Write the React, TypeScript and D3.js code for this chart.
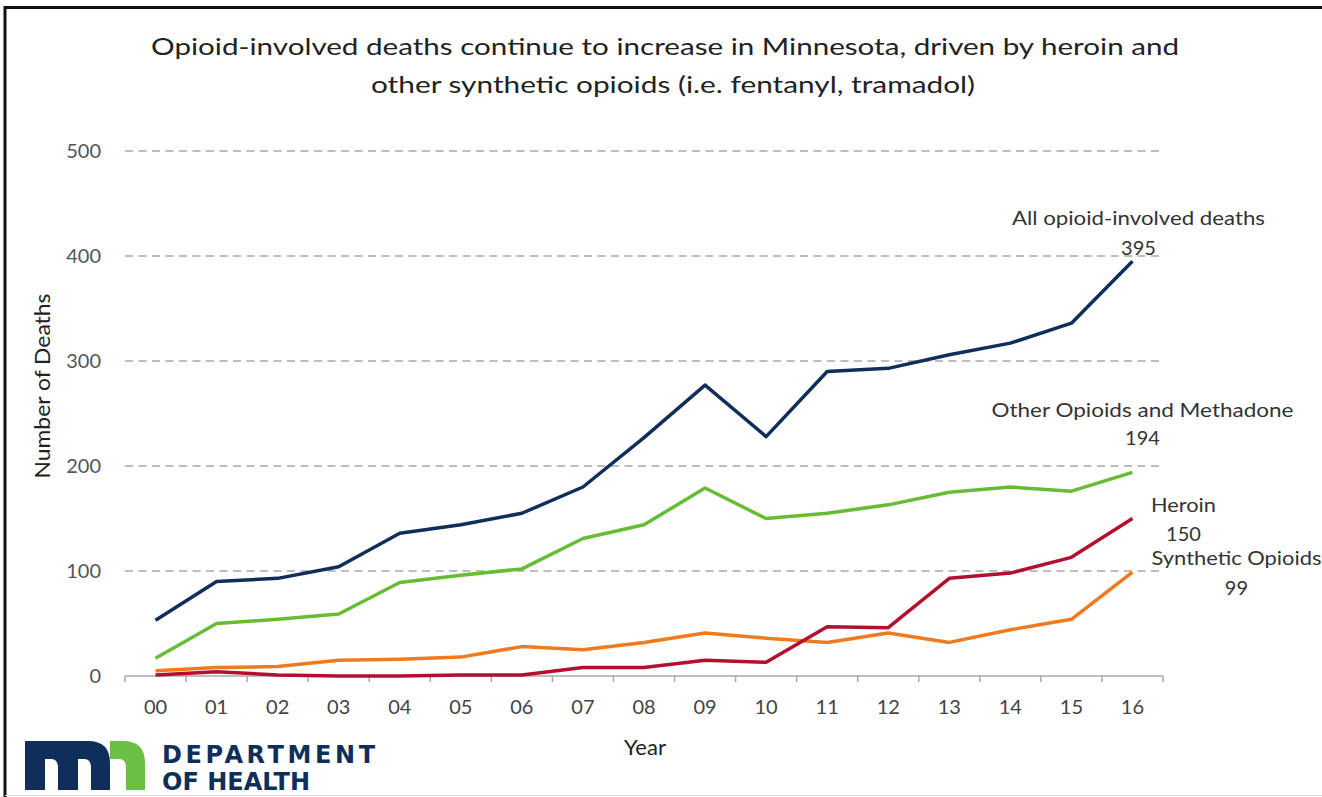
import * as d3 from 'd3';

const years = ['00', '01', '02', '03', '04', '05', '06', '07', '08', '09', '10', '11', '12', '13', '14', '15', '16'];

const allOpioids = [53, 90, 93, 104, 136, 144, 155, 180, 227, 277, 228, 290, 293, 306, 317, 336, 395];
const otherOpioids = [17, 50, 54, 59, 89, 96, 102, 131, 144, 179, 150, 155, 163, 175, 180, 176, 194];
const heroin = [1, 4, 1, 0, 0, 1, 1, 8, 8, 15, 13, 47, 46, 93, 98, 113, 150];
const synthetic = [5, 8, 9, 15, 16, 18, 28, 25, 32, 41, 36, 32, 41, 32, 44, 54, 99];

const yTicks = [0, 100, 200, 300, 400, 500];

const series = [
  { name: 'Synthetic Opioids', values: synthetic, color: '#f07a1f' },
  { name: 'Heroin', values: heroin, color: '#b3102f' },
  { name: 'Other Opioids and Methadone', values: otherOpioids, color: '#66bd35' },
  { name: 'All opioid-involved deaths', values: allOpioids, color: '#0f2f5a' },
];

// end-of-line annotations (offsets from last point)
const endLabels = [
  { name: 'All opioid-involved deaths', value: 395, dx: 6, nameY: 225, valY: 255, len: 253 },
  { name: 'Other Opioids and Methadone', value: 194, dx: 10, nameY: 417, valY: 445, len: 302 },
  { name: 'Heroin', value: 150, dx: 51, nameY: 512, valY: 541, len: 65 },
  { name: 'Synthetic Opioids', value: 99, dx: 104, nameY: 565, valY: 595, len: 170 },
];

const FONT = "Lato, 'Open Sans', sans-serif";

export default function App() {
  const W = 1322;
  const H = 797;
  const left = 125;
  const right = 1163;

  const x = d3.scaleBand<string>().domain(years).range([left, right]).padding(0);
  const y = d3.scaleLinear().domain([0, 500]).range([676, 151]);
  const xc = (d: string) => (x(d) as number) + x.bandwidth() / 2;

  const line = d3
    .line<number>()
    .x((_, i) => xc(years[i]))
    .y((d) => y(d));

  const boundaries = years.map((d) => x(d) as number).concat([right]);
  const lastX = xc(years[years.length - 1]);

  return (
    <div style={{ position: 'absolute', left: 0, top: 0 }}>
      <svg width={W} height={H} style={{ display: 'block', background: '#fff' }}>
        {/* frame */}
        <line x1={4} x2={W} y1={7.5} y2={7.5} stroke="#111" strokeWidth={3} />
        <line x1={5} x2={5} y1={6} y2={H} stroke="#111" strokeWidth={3} />
        <line x1={5} x2={W} y1={795.5} y2={795.5} stroke="#ddd" strokeWidth={1} />

        {/* title */}
        <text x={665} y={55} textAnchor="middle" fontFamily={FONT} fontSize={24} fill="#222"
          textLength={1028} lengthAdjust="spacingAndGlyphs">
          Opioid-involved deaths continue to increase in Minnesota, driven by heroin and
        </text>
        <text x={673} y={93} textAnchor="middle" fontFamily={FONT} fontSize={24} fill="#222"
          textLength={604} lengthAdjust="spacingAndGlyphs">
          other synthetic opioids (i.e. fentanyl, tramadol)
        </text>

        {/* gridlines */}
        {yTicks.filter((t) => t > 0).map((t) => (
          <line key={t} x1={left} x2={right} y1={y(t)} y2={y(t)} stroke="#bdbdbd"
            strokeWidth={2} strokeDasharray="8,5.5" />
        ))}

        {/* y tick labels */}
        {yTicks.map((t) => (
          <text key={t} x={101} y={y(t)} dy="0.35em" textAnchor="end" fontFamily={FONT}
            fontSize={20} fill="#555">
            {t}
          </text>
        ))}

        {/* x axis */}
        <line x1={left} x2={right} y1={y(0)} y2={y(0)} stroke="#a8a8a8" strokeWidth={1.5} />
        {boundaries.map((b, i) => (
          <line key={i} x1={b} x2={b} y1={y(0)} y2={y(0) + 6} stroke="#a8a8a8" strokeWidth={1.5} />
        ))}
        {years.map((d) => (
          <text key={d} x={xc(d)} y={714} textAnchor="middle" fontFamily={FONT} fontSize={20} fill="#444">
            {d}
          </text>
        ))}

        {/* axis titles */}
        <text x={645} y={755} textAnchor="middle" fontFamily={FONT} fontSize={22} fill="#222">Year</text>
        <text transform="translate(50,386) rotate(-90)" textAnchor="middle" fontFamily={FONT}
          fontSize={22} fill="#222" textLength={185} lengthAdjust="spacingAndGlyphs">
          Number of Deaths
        </text>

        {/* series */}
        {series.map((s) => (
          <path key={s.name} d={line(s.values) || ''} fill="none" stroke={s.color}
            strokeWidth={3.5} strokeLinejoin="round" />
        ))}

        {/* end labels */}
        {endLabels.map((l) => (
          <g key={l.name} fontFamily={FONT} fontSize={20} fill="#333" textAnchor="middle">
            <text x={lastX + l.dx} y={l.nameY} textLength={l.len} lengthAdjust="spacingAndGlyphs">{l.name}</text>
            <text x={lastX + l.dx} y={l.valY}>{l.value}</text>
          </g>
        ))}

        {/* logo */}
        <path d="M25,790 L25,741 L88,741 Q110,741 110,763 L110,790 L91,790 L91,768 Q91,759 84,759 L78,759 L78,790 L58,790 L58,768 Q58,759 51,759 L45,759 L45,790 Z"
          fill="#0f2f5a" />
        <path d="M110,741 L123,741 Q145,741 145,763 L145,790 L126,790 L126,768 Q126,759 119,759 L110,759 Z"
          fill="#6abf45" />
        <text x={162} y={763} fontFamily="'DejaVu Sans', sans-serif" fontWeight="bold" fontSize={24}
          fill="#0f2f5a" textLength={213} lengthAdjust="spacing">
          DEPARTMENT
        </text>
        <text x={162} y={790} fontFamily="'DejaVu Sans', sans-serif" fontWeight="bold" fontSize={24}
          fill="#0f2f5a" textLength={148} lengthAdjust="spacing">
          OF HEALTH
        </text>
      </svg>
    </div>
  );
}
